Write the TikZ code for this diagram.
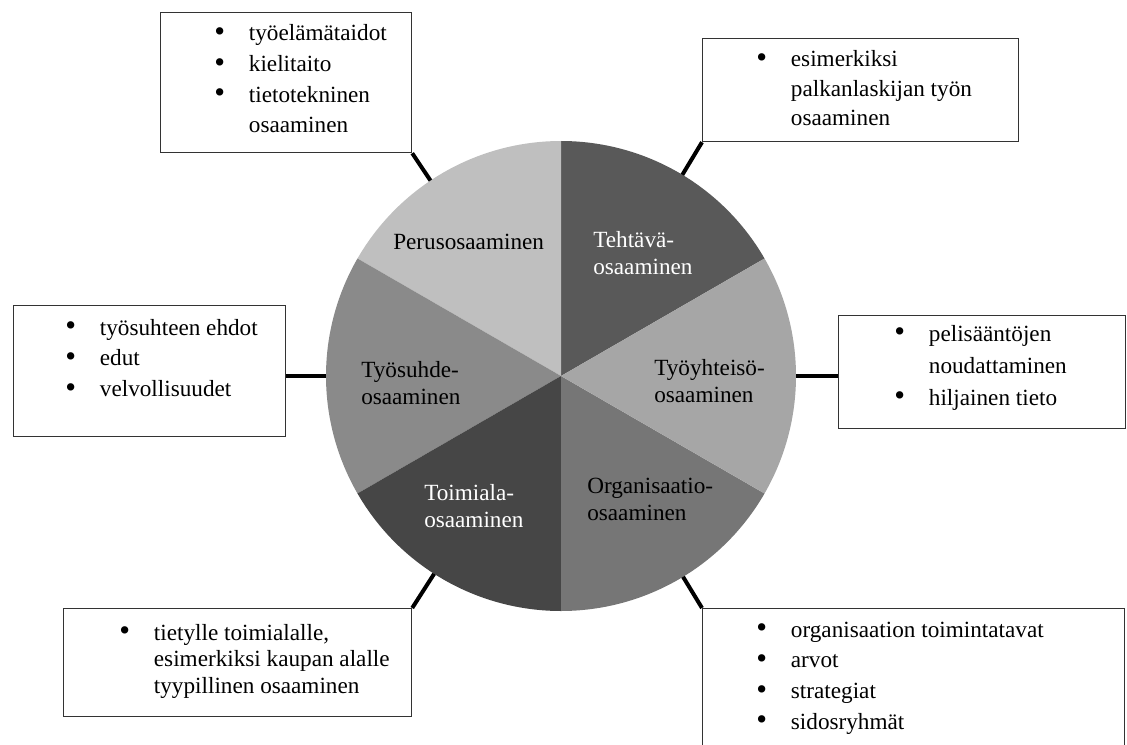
\documentclass[tikz,border=0pt]{standalone}
\usepackage{fontspec}
\setmainfont{Liberation Serif}
\usetikzlibrary{positioning}

\definecolor{perusgray}{HTML}{BFBFBF}
\definecolor{tehtavagray}{HTML}{595959}
\definecolor{yhteisogray}{HTML}{A6A6A6}
\definecolor{orggray}{HTML}{767676}
\definecolor{toimialagray}{HTML}{464646}
\definecolor{suhdegray}{HTML}{8A8A8A}

% bullet lists inside the side boxes
\newcommand{\bullist}[1]{\begin{tabular}[t]{@{}p{26pt}@{}l@{}}#1\end{tabular}}
\newcommand{\bul}{\raisebox{-0.5pt}{\fontsize{23}{23}\selectfont\textbullet} &}

\begin{document}
\begin{tikzpicture}[
    x=0.75pt, y=0.75pt,
    infobox/.style 2 args={rectangle, draw=black!80, line width=0.9pt, anchor=north west,
      minimum width=#1*0.75pt, minimum height=#2*0.75pt, inner sep=0pt},
    listtext/.style={anchor=base west, inner sep=0pt, font=\fontsize{17.4}{#1}\selectfont},
    listtext/.default=23pt,
    slicelabel/.style={anchor=base west, align=left, inner sep=0pt,
      font=\fontsize{17.4}{20.25}\selectfont},
    link/.style={line width=3pt, black}
  ]
    \useasboundingbox (0,0) rectangle (1127,744);
    \clip (0,0) rectangle (1127,744);

    % the wheel
    \node[circle, minimum size=470*0.75pt, inner sep=0pt, outer sep=0pt] (pie) at (561,368) {};
    \fill[tehtavagray]  (pie.center) -- ++(30:235)  arc[start angle=30,  end angle=90,  radius=235] -- cycle;
    \fill[perusgray]    (pie.center) -- ++(90:235)  arc[start angle=90,  end angle=150, radius=235] -- cycle;
    \fill[suhdegray]    (pie.center) -- ++(150:235) arc[start angle=150, end angle=210, radius=235] -- cycle;
    \fill[toimialagray] (pie.center) -- ++(210:235) arc[start angle=210, end angle=270, radius=235] -- cycle;
    \fill[orggray]      (pie.center) -- ++(270:235) arc[start angle=270, end angle=330, radius=235] -- cycle;
    \fill[yhteisogray]  (pie.center) -- ++(330:235) arc[start angle=330, end angle=390, radius=235] -- cycle;

    % labels sit on the baseline of their last line
    \node[slicelabel] (perus) at (393,494) {Perusosaaminen};
    \node[slicelabel, text=white] (tehtava) at (593,470) {Tehtävä-\\osaaminen};
    \node[slicelabel] (yhteiso) at (654,342) {Työyhteisö-\\osaaminen};
    \node[slicelabel] (org) at (587,224) {Organisaatio-\\osaaminen};
    \node[slicelabel, text=white] (toimiala) at (424,217) {Toimiala-\\osaaminen};
    \node[slicelabel] (suhde) at (361,340) {Työsuhde-\\osaaminen};

    % side boxes
    \node[infobox={251}{140}] (perusBox) at (160,732) {};
    \node[listtext] (perusList) at (214,703)
      {\bullist{\bul työelämätaidot\\ \bul kielitaito\\ \bul tietotekninen\\ & osaaminen}};

    \node[infobox={316}{103}] (tehtavaBox) at (702,706) {};
    \node[listtext=22pt] (tehtavaList) at (756,677)
      {\bullist{\bul esimerkiksi\\ & palkanlaskijan työn\\ & osaaminen}};

    \node[infobox={272}{131}] (suhdeBox) at (13,439) {};
    \node[listtext] (suhdeList) at (65,409)
      {\bullist{\bul työsuhteen ehdot\\ \bul edut\\ \bul velvollisuudet}};

    \node[infobox={287}{113}] (yhteisoBox) at (838,429) {};
    \node[listtext=24pt] (yhteisoList) at (894,403)
      {\bullist{\bul pelisääntöjen\\ & noudattaminen\\ \bul hiljainen tieto}};

    \node[infobox={348}{108}] (toimialaBox) at (63,136) {};
    \node[listtext=20pt] (toimialaList) at (119,104)
      {\bullist{\bul tietylle toimialalle,\\ & esimerkiksi kaupan alalle\\ & tyypillinen osaaminen}};

    \node[infobox={422}{152}] (orgBox) at (702,136) {};
    \node[listtext] (orgList) at (756,107)
      {\bullist{\bul organisaation toimintatavat\\ \bul arvot\\ \bul strategiat\\ \bul sidosryhmät}};

    % connectors from the boxes to the wheel
    \draw[link] (perusBox.south east) -- (pie);
    \draw[link] (tehtavaBox.south west) -- (pie);
    \draw[link] (toimialaBox.north east) -- (pie);
    \draw[link] (orgBox.north west) -- (pie);
    \draw[link] (pie.west) -- (pie.west -| suhdeBox.east);
    \draw[link] (pie.east) -- (pie.east -| yhteisoBox.west);
  \end{tikzpicture}
\end{document}
